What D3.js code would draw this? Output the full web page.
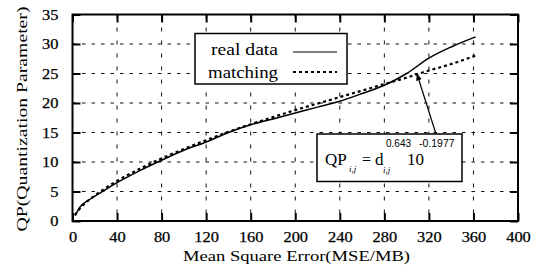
<!DOCTYPE html>
<html><head><meta charset="utf-8">
<script src="https://cdn.jsdelivr.net/npm/d3@7"></script>
<style>body{margin:0;background:#fff}svg{display:block}</style>
</head><body>
<svg id="c" width="544" height="273"></svg>
<script>
const xTicks = [0,40,80,120,160,200,240,280,320,360,400];
const yTicks = [0,5,10,15,20,25,30,35];
const realMSE = [2.5,6,15,26,40,60,80,100,120,140,160,180,200,220,240,260,280,300,320,340,362];
const realQP  = [0.9,2.2,3.6,4.9,6.5,8.5,10.3,12.0,13.4,15.0,16.3,17.3,18.3,19.3,20.3,21.6,23.0,25.0,27.6,29.5,31.2];
const fitMSE = [2,10,20,40,60,80,100,120,140,160,180,200,220,240,260,280,300,320,340,364];
const fitQP  = [1.0,2.8,4.3,6.8,8.8,10.6,12.2,13.7,15.1,16.4,17.6,18.8,19.9,21.0,22.1,23.2,24.3,25.5,26.6,28.2];

const SERIF = "'Liberation Serif', 'DejaVu Serif', serif";
const SANS = "'Liberation Sans', sans-serif";

const svg = d3.select("#c");
const L=72.5, R=518, T=14.5, B=221;
const x = d3.scaleLinear().domain([0,400]).range([L,R]);
const y = d3.scaleLinear().domain([0,35]).range([B,T]);

// grid
const g = svg.append("g");
g.selectAll(".vg").data(xTicks.slice(1,-1)).enter().append("line")
  .attr("x1",d=>x(d)).attr("x2",d=>x(d)).attr("y1",T).attr("y2",B)
  .attr("stroke","#111").attr("stroke-width",1).attr("stroke-dasharray","4,9");
g.selectAll(".hg").data(yTicks.slice(1,-1)).enter().append("line")
  .attr("y1",d=>y(d)).attr("y2",d=>y(d)).attr("x1",L).attr("x2",R)
  .attr("stroke","#111").attr("stroke-width",1).attr("stroke-dasharray","3.5,6");

// axes with inward ticks
const ax = svg.append("g");
ax.append("g").attr("transform",`translate(0,${B})`)
  .call(d3.axisBottom(x).tickValues(xTicks).tickSize(-8).tickPadding(11).tickFormat(d3.format("d")));
ax.append("g").attr("transform",`translate(0,${T})`)
  .call(d3.axisTop(x).tickValues(xTicks).tickSize(-8).tickFormat(""));
ax.append("g").attr("transform",`translate(${L},0)`)
  .call(d3.axisLeft(y).tickValues(yTicks).tickSize(-8).tickPadding(14).tickFormat(d3.format("d")));
ax.append("g").attr("transform",`translate(${R},0)`)
  .call(d3.axisRight(y).tickValues(yTicks).tickSize(-8).tickFormat(""));
ax.selectAll(".domain").remove();
ax.selectAll(".tick line").attr("stroke","#000").attr("stroke-width",2);
ax.selectAll(".tick text").style("font-size","14.5px").style("font-family",SERIF)
  .attr("fill","#000").attr("stroke","#000").attr("stroke-width",0.25)
  .each(function(){ const n=this.textContent.length; if(n) d3.select(this).attr("textLength",n*8.2).attr("lengthAdjust","spacingAndGlyphs"); });

svg.append("rect").attr("x",L).attr("y",T).attr("width",R-L).attr("height",B-T)
  .attr("fill","none").attr("stroke","#000").attr("stroke-width",2);

// lines
const line = d3.line().x(d=>x(d[0])).y(d=>y(d[1])).curve(d3.curveMonotoneX);
svg.append("path").datum(realMSE.map((m,i)=>[m,realQP[i]])).attr("d",line)
  .attr("fill","none").attr("stroke","#000").attr("stroke-width",1.5);
svg.append("path").datum(fitMSE.map((m,i)=>[m,fitQP[i]])).attr("d",line)
  .attr("fill","none").attr("stroke","#000").attr("stroke-width",2.2).attr("stroke-dasharray","3,3");

function txt(px,py,s,size,fam){
  return svg.append("text").attr("x",px).attr("y",py).style("font-size",size+"px").style("font-family",fam).attr("fill","#000").text(s);
}

// legend
svg.append("rect").attr("x",195).attr("y",33.5).attr("width",152).attr("height",50.5)
  .attr("fill","#fff").attr("stroke","#000").attr("stroke-width",1.5);
txt(211,55,"real data",16,SERIF).attr("textLength",67).attr("lengthAdjust","spacingAndGlyphs");
txt(208,78,"matching",16,SERIF).attr("textLength",70).attr("lengthAdjust","spacingAndGlyphs");
svg.append("line").attr("x1",293).attr("x2",337).attr("y1",52).attr("y2",52).attr("stroke","#000").attr("stroke-width",1.2);
svg.append("line").attr("x1",293).attr("x2",337).attr("y1",72).attr("y2",72).attr("stroke","#000").attr("stroke-width",2.2).attr("stroke-dasharray","3,3");

// formula box
svg.append("rect").attr("x",317).attr("y",134).attr("width",145).attr("height",47.5)
  .attr("fill","#fff").attr("stroke","#000").attr("stroke-width",1.5);
txt(325,165,"QP",17,SERIF);
txt(349,172,"i,j",9,SERIF).style("font-style","italic");
txt(362,165,"=",16,SERIF);
txt(375,165,"d",17,SERIF);
txt(383,173,"i,j",9,SERIF).style("font-style","italic");
txt(386,147,"0.643",10,SANS);
txt(407,165,"10",17,SERIF);
txt(419,147,"-0.1977",10.5,SANS);

// arrow
svg.append("defs").append("marker").attr("id","ah").attr("viewBox","0 0 10 10").attr("refX",9).attr("refY",5)
  .attr("markerWidth",6).attr("markerHeight",6).attr("orient","auto")
  .append("path").attr("d","M0,1 L10,5 L0,9 Z").attr("fill","#000");
svg.append("line").attr("x1",436).attr("y1",134).attr("x2",417).attr("y2",74)
  .attr("stroke","#000").attr("stroke-width",1.2).attr("marker-end","url(#ah)");

// axis titles
txt(296.5,261,"Mean Square Error(MSE/MB)",15,SERIF).attr("text-anchor","middle")
  .attr("textLength",227).attr("lengthAdjust","spacingAndGlyphs");
txt(0,0,"QP(Quantization Parameter)",15,SERIF).attr("text-anchor","middle")
  .attr("transform","translate(27,119) rotate(-90)")
  .attr("textLength",225).attr("lengthAdjust","spacingAndGlyphs");
</script>
</body></html>
